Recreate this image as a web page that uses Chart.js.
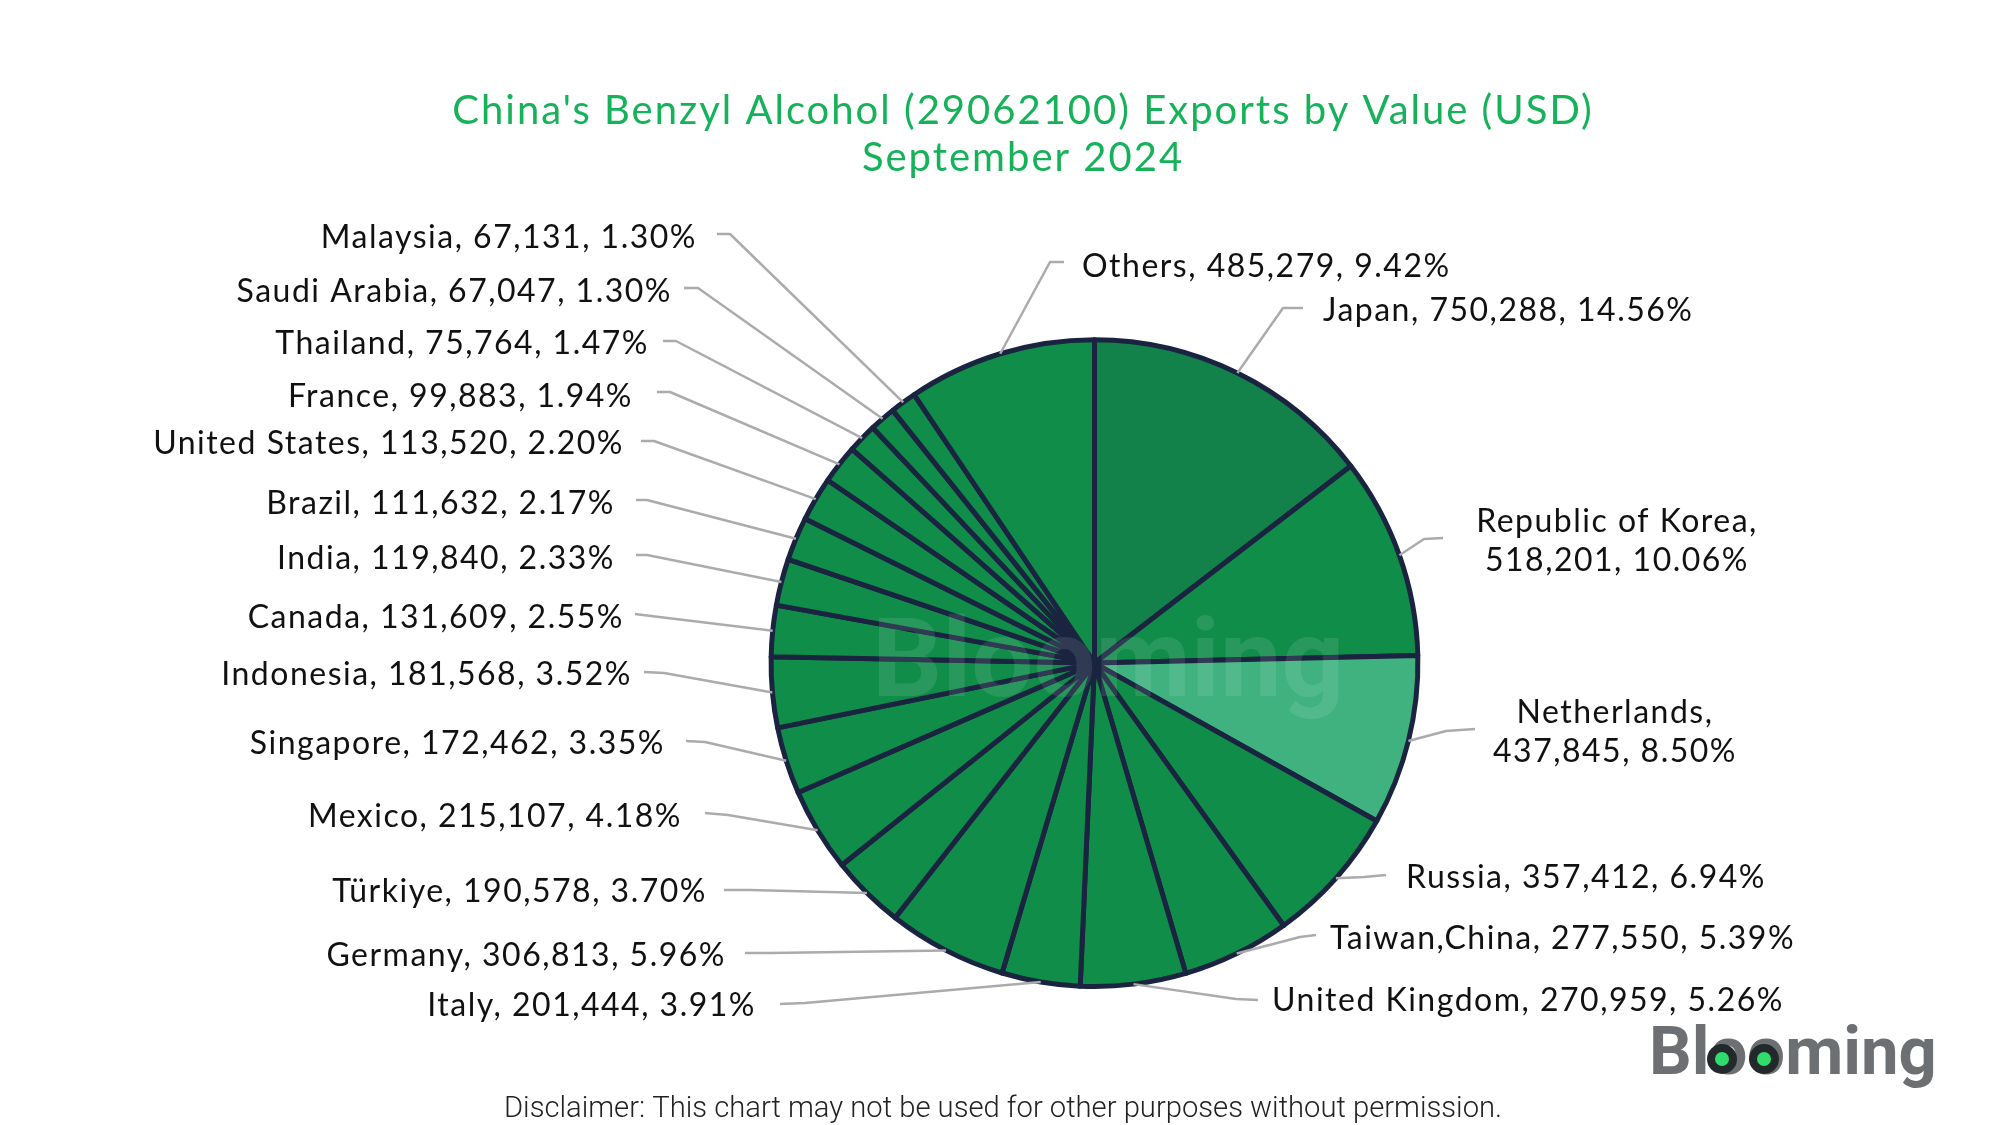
<!DOCTYPE html>
<html><head><meta charset="utf-8">
<style>html,body{margin:0;padding:0;background:#fff}canvas{display:block}</style>
<script src="https://cdn.jsdelivr.net/npm/chart.js@4"></script>
</head><body>
<div style="width:2000px;height:1125px"><canvas id="c" width="2000" height="1125"></canvas></div>
<script>
const categories=["Japan","Republic of Korea","Netherlands","Russia","Taiwan,China","United Kingdom","Italy","Germany","Türkiye","Mexico","Singapore","Indonesia","Canada","India","Brazil","United States","France","Thailand","Saudi Arabia","Malaysia","Others"];
const values=[750288,518201,437845,357412,277550,270959,201444,306813,190578,215107,172462,181568,131609,119840,111632,113520,99883,75764,67047,67131,485279];
const percents=[14.56,10.06,8.50,6.94,5.39,5.26,3.91,5.96,3.70,4.18,3.35,3.52,2.55,2.33,2.17,2.20,1.94,1.47,1.30,1.30,9.42];
const titleLines=["China's Benzyl Alcohol (29062100) Exports by Value (USD)","September 2024"];
const disclaimer="Disclaimer: This chart may not be used for other purposes without permission.";
const brand="Blooming";
const sliceColors=["#12824A","#118D4A","#3FB27F","#118D4A","#118D4A","#118D4A","#118D4A","#118D4A","#118D4A","#118D4A","#118D4A","#118D4A","#118D4A","#118D4A","#118D4A","#118D4A","#118D4A","#118D4A","#118D4A","#118D4A","#118D4A"];
// label layout: [textX, textY, align, lineStartX, lineStartY, elbowX, elbowY, breakAfterName]
const labelLayout=[
[1323,311,"left",1303,308,1283,308],
[1617,541,"center",1443,538,1424,539,1],
[1615,732,"center",1475,729,1446,731,1],
[1406,878,"left",1386,875,1364,877],
[1330,939,"left",1316,935,1300,937],
[1272,1001,"left",1258,1000,1236,999],
[756,1006,"right",780,1004,805,1003],
[726,956,"right",745,953,770,953],
[707,892,"right",724,890,750,890],
[682,817,"right",705,813,728,815],
[665,744,"right",686,741,705,742],
[632,675,"right",644,672,664,673],
[624,618,"right",635,614,651,616],
[615,559,"right",636,555,647,555],
[615,504,"right",636,500,647,500],
[624,444,"right",641,441,654,441],
[633,397,"right",657,392,670,392],
[649,344,"right",663,341,676,341],
[672,292,"right",684,288,698,288],
[697,238,"right",717,234,730,234],
[1082,267,"left",1064,262,1050,262]
];
const fmt=i=>values[i].toLocaleString("en-US")+", "+percents[i].toFixed(2)+"%";
const overlay={
 id:"overlay",
 beforeDraw(chart){chart.ctx.letterSpacing="2px";},
 afterDatasetsDraw(chart){chart.ctx.letterSpacing="2px";},
 afterLayout(chart){
  const t=chart.titleBlock;t.left=0;t.right=2046;t.width=2046;t.top=87;t.bottom=181;
 },
 afterDraw(chart){
  const ctx=chart.ctx,arcs=chart.getDatasetMeta(0).data;
  ctx.save();
  ctx.letterSpacing="0px";
  // watermark
  ctx.fillStyle="rgba(255,255,255,0.10)";ctx.font="bold 110px Roboto";ctx.textAlign="left";ctx.textBaseline="alphabetic";
  ctx.fillText(brand,872,696);
  // leaders and labels
  arcs.forEach((a,i)=>{
   const p=a.getProps(["x","y","startAngle","endAngle","outerRadius"],true);
   const m=(p.startAngle+p.endAngle)/2,l=labelLayout[i];
   ctx.strokeStyle="#ababab";ctx.lineWidth=2.5;ctx.lineJoin="round";
   ctx.beginPath();ctx.moveTo(l[3],l[4]);ctx.lineTo(l[5],l[6]);
   ctx.lineTo(p.x+Math.cos(m)*p.outerRadius,p.y+Math.sin(m)*p.outerRadius);ctx.stroke();
   ctx.fillStyle="#111";ctx.font="32px Lato";ctx.letterSpacing="1.5px";ctx.textAlign=l[2];ctx.textBaseline="middle";
   if(l[7]){ctx.fillText(categories[i]+",",l[0],l[1]-19.5);ctx.fillText(fmt(i),l[0],l[1]+19.5);}
   else ctx.fillText(categories[i]+", "+fmt(i),l[0],l[1]);
  });
  ctx.letterSpacing="0px";
  // disclaimer
  ctx.fillStyle="#222";ctx.font="300 29.2px Roboto";ctx.textAlign="center";ctx.fillText(disclaimer,1003,1110);
  // logo
  ctx.fillStyle="#6c7072";ctx.font="bold 67px Roboto";ctx.textAlign="left";ctx.textBaseline="alphabetic";
  ctx.fillText(brand,1649,1074);
  [1722,1764].forEach(x=>{
   ctx.fillStyle="#23282a";ctx.beginPath();ctx.arc(x,1059,15,0,Math.PI*2);ctx.fill();
   ctx.fillStyle="#2fdc6c";ctx.beginPath();ctx.arc(x,1059,7,0,Math.PI*2);ctx.fill();
  });
  ctx.restore();
 }
};
new Chart(document.getElementById("c"),{
 type:"pie",
 data:{labels:categories,datasets:[{data:values,backgroundColor:sliceColors,borderColor:"#1a2440",borderWidth:5,borderJoinStyle:"round"}]},
 options:{
  responsive:false,animation:false,
  layout:{padding:{left:768,right:579,top:242,bottom:136}},
  plugins:{legend:{display:false},tooltip:{enabled:false},
   title:{display:true,text:titleLines,color:"#16B25A",font:{family:"Lato",size:40,weight:"normal",lineHeight:1.19},padding:0}}
 },
 plugins:[overlay]
});
</script>
</body></html>
